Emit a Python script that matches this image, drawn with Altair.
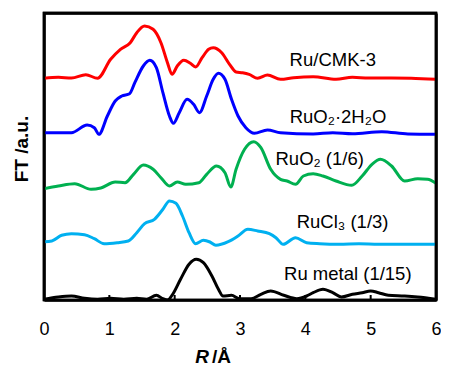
import altair as alt
import pandas as pd

# ---- data (R in Å, FT in a.u., curves already offset as in the figure) ----
series_names = ["Ru/CMK-3", "RuO2·2H2O", "RuO2 (1/6)", "RuCl3 (1/3)", "Ru metal (1/15)"]
series_colors = ["#ff0000", "#0000ff", "#00b050", "#00b0f0", "#000000"]

r_red = [0, 0.22, 0.42, 0.64, 0.82, 1.02, 1.17, 1.32, 1.42, 1.54, 1.67, 1.79, 1.89, 1.96, 2.04, 2.14,
         2.24, 2.32, 2.42, 2.52, 2.59, 2.72, 2.84, 2.94, 3.04, 3.14, 3.27, 3.42, 3.62, 3.82, 4.12,
         4.47, 4.72, 4.97, 5.32, 5.62, 6.0]
ft_red = [22.17, 22.27, 22.2, 22.53, 22.17, 24.07, 25.07, 25.73, 26.73, 27.4, 27.07, 25.73, 23.73,
          22.57, 23.4, 23.97, 23.67, 23.3, 24.23, 25.07, 25.23, 24.73, 23.57, 22.8, 22.73, 22.57,
          22.17, 22.5, 22.07, 22.23, 22.33, 22.07, 22.27, 22.2, 22.2, 22.17, 22.07]

r_blue = [0, 0.22, 0.42, 0.66, 0.77, 0.84, 0.97, 1.09, 1.19, 1.31, 1.39, 1.52, 1.62, 1.72, 1.82, 1.92,
          1.98, 2.07, 2.19, 2.29, 2.38, 2.49, 2.59, 2.67, 2.77, 2.87, 2.97, 3.09, 3.22, 3.42, 3.62,
          4.12, 4.42, 4.72, 5.17, 5.57, 6.0]
ft_blue = [16.73, 16.73, 16.73, 17.5, 17.23, 16.57, 18.4, 19.9, 20.4, 20.63, 21.73, 23.4, 23.97, 23.23,
           20.73, 18.4, 17.67, 18.73, 20.07, 19.57, 18.73, 20.4, 22.07, 22.67, 22.07, 20.07, 18.4,
           17.23, 16.67, 17.0, 16.73, 16.6, 16.73, 16.63, 16.83, 16.6, 16.57]

r_green = [0, 0.22, 0.47, 0.72, 0.87, 1.09, 1.24, 1.37, 1.52, 1.67, 1.79, 1.92, 2.04, 2.17, 2.37, 2.49,
           2.64, 2.77, 2.86, 2.94, 3.07, 3.21, 3.32, 3.47, 3.62, 3.72, 3.85, 3.97, 4.12, 4.27, 4.47,
           4.71, 4.87, 5.02, 5.15, 5.32, 5.52, 5.72, 5.87, 6.0]
ft_green = [11.13, 11.4, 11.63, 11.07, 11.2, 11.8, 11.73, 12.57, 13.5, 13.07, 12.23, 11.4, 11.8, 11.57,
            11.73, 12.57, 13.4, 12.73, 11.3, 13.07, 15.07, 15.83, 15.23, 13.07, 12.07, 11.9, 11.57,
            12.4, 12.63, 12.4, 11.9, 11.47, 12.4, 13.57, 14.07, 13.4, 11.9, 12.13, 12.07, 11.67]

r_cyan = [0, 0.12, 0.27, 0.42, 0.62, 0.77, 0.92, 1.12, 1.29, 1.42, 1.54, 1.69, 1.82, 1.92, 2.02, 2.12,
          2.22, 2.32, 2.44, 2.54, 2.63, 2.82, 2.97, 3.12, 3.27, 3.45, 3.55, 3.66, 3.85, 4.02, 4.22,
          4.52, 4.82, 5.12, 5.55, 6.0]
ft_cyan = [5.83, 5.9, 6.47, 6.63, 6.53, 6.13, 5.63, 5.73, 5.9, 6.73, 7.63, 8.07, 9.07, 9.9, 9.67, 8.4,
           6.73, 5.63, 5.97, 5.8, 5.47, 5.83, 6.4, 7.07, 6.9, 6.63, 6.23, 5.57, 6.23, 5.73, 5.63,
           5.57, 5.63, 5.57, 5.57, 5.57]

r_black = [0, 0.22, 0.42, 0.62, 0.82, 1.02, 1.22, 1.42, 1.57, 1.72, 1.82, 1.89, 1.97, 2.09, 2.22, 2.33,
           2.44, 2.57, 2.67, 2.74, 2.87, 2.99, 3.17, 3.32, 3.47, 3.67, 3.87, 4.02, 4.12, 4.27, 4.42,
           4.55, 4.72, 4.87, 5.0, 5.12, 5.27, 5.52, 5.72, 6.0]
ft_black = [0.07, 0.3, 0.4, 0.17, 0.07, 0.17, 0.07, 0.17, 0.07, 0.47, 0.13, 0.0, 0.57, 2.07, 3.57, 4.07,
            3.73, 2.4, 1.07, 0.4, 0.47, 0.13, 0.13, 0.57, 0.9, 0.47, 0.13, 0.4, 0.73, 1.07, 0.73,
            0.3, 0.57, 0.73, 0.9, 0.73, 0.47, 0.4, 0.3, 0.07]

label_texts = ["Ru/CMK-3", "RuO₂·2H₂O", "RuO₂ (1/6)", "RuCl₃ (1/3)", "Ru metal (1/15)"]
label_r = [4.42, 4.5, 4.22, 4.57, 4.65]
label_ft = [23.97, 18.33, 14.13, 7.8, 2.57]

x_ticks = [0, 1, 2, 3, 4, 5, 6]
R_MIN, R_MAX = 0, 6
FT_MIN, FT_MAX = 0, 28.7

# ---- build tables ----
rows = []
for name, rs, fts in zip(series_names,
                         [r_red, r_blue, r_green, r_cyan, r_black],
                         [ft_red, ft_blue, ft_green, ft_cyan, ft_black]):
    for r, f in zip(rs, fts):
        rows.append({"series": name, "R": r, "FT": f})
df = pd.DataFrame(rows)
labels = pd.DataFrame({"text": label_texts, "R": label_r, "FT": label_ft})
ticks = pd.DataFrame({"R": x_ticks[1:-1], "FT": [FT_MIN] * 5, "FT2": [0.5] * 5})
box = pd.DataFrame({"R": [R_MIN], "R2": [R_MAX], "FT": [FT_MIN], "FT2": [FT_MAX]})

FONT = "Liberation Sans"
W, H = 392, 287
FRAME = 2.5
xscale = alt.Scale(domain=[R_MIN, R_MAX], nice=False, zero=False)
yscale = alt.Scale(domain=[FT_MIN, FT_MAX], nice=False, zero=False)

lines = alt.Chart(df).mark_line(strokeWidth=3, interpolate="monotone", clip=True).encode(
    x=alt.X("R:Q", scale=xscale,
            axis=alt.Axis(values=x_ticks, format="d", labelFontSize=18, labelFont=FONT,
                          labelColor="black", labelPadding=20, tickSize=0, domain=True,
                          domainColor="black", domainWidth=FRAME,
                          labelFlush=False, grid=False, title=None)),
    y=alt.Y("FT:Q", scale=yscale,
            axis=alt.Axis(labels=False, ticks=False, domain=True, domainColor="black",
                          domainWidth=FRAME, grid=False, title=None)),
    color=alt.Color("series:N", scale=alt.Scale(domain=series_names, range=series_colors),
                    legend=None),
    detail="series:N",
)

# plot frame drawn through the scales
frame = alt.Chart(box).mark_rect(filled=False, stroke="black", strokeWidth=FRAME).encode(
    x=alt.X("R:Q", scale=xscale,
            axis=alt.Axis(orient="top", labels=False, ticks=False, domain=True,
                          domainColor="black", domainWidth=FRAME, grid=False, title=None)),
    x2="R2:Q",
    y=alt.Y("FT:Q", scale=yscale,
            axis=alt.Axis(orient="right", labels=False, ticks=False, domain=True,
                          domainColor="black", domainWidth=FRAME, grid=False, title=None)),
    y2="FT2:Q",
)

tick_marks = alt.Chart(ticks).mark_rule(color="black", strokeWidth=2).encode(
    x=alt.X("R:Q", scale=xscale, axis=None),
    y=alt.Y("FT:Q", scale=yscale, axis=None),
    y2="FT2:Q")

text = alt.Chart(labels).mark_text(font=FONT, fontSize=18.5, color="black", align="center",
                                   baseline="middle").encode(
    x=alt.X("R:Q", scale=xscale, axis=None),
    y=alt.Y("FT:Q", scale=yscale, axis=None),
    text="text:N")

ytitle = alt.Chart(pd.DataFrame({"t": ["FT /a.u."]})).mark_text(
    font=FONT, fontSize=19, fontWeight="bold", angle=270, align="center", baseline="middle",
    color="black").encode(x=alt.value(-22), y=alt.value(136), text="t:N")

xtitle_r = alt.Chart(pd.DataFrame({"t": ["R"]})).mark_text(
    font=FONT, fontSize=19, fontWeight="bold", fontStyle="italic", align="right",
    baseline="alphabetic", color="black").encode(x=alt.value(165), y=alt.value(350), text="t:N")

xtitle_u = alt.Chart(pd.DataFrame({"t": ["/Å"]})).mark_text(
    font=FONT, fontSize=19, fontWeight="bold", align="left",
    baseline="alphabetic", color="black").encode(x=alt.value(168), y=alt.value(350), text="t:N")

chart = alt.layer(lines, frame, tick_marks, text, ytitle, xtitle_r, xtitle_u).resolve_axis(
    x="independent", y="independent"
).properties(
    width=W, height=H,
    autosize="none",
    padding={"left": 36, "top": 5, "right": 5, "bottom": 66},
    background="white",
).configure_view(stroke="black", strokeWidth=FRAME)

chart.save("out.html", embed_options={"renderer": "svg", "actions": False})
